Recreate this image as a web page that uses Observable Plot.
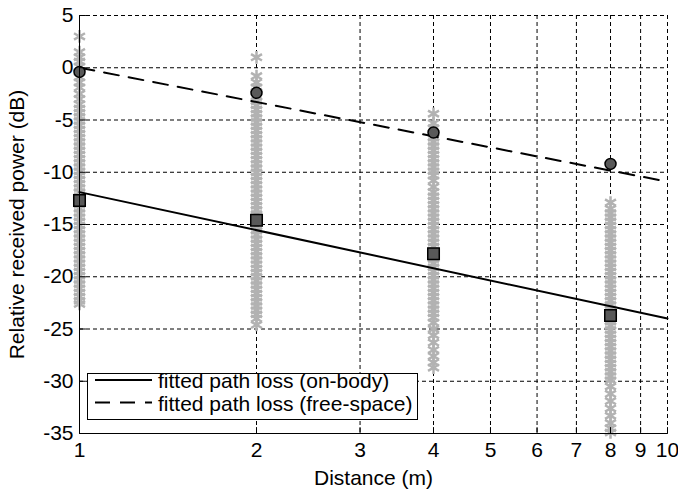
<!DOCTYPE html>
<html><head><meta charset="utf-8">
<script src="https://cdn.jsdelivr.net/npm/d3@7"></script>
<script src="https://cdn.jsdelivr.net/npm/@observablehq/plot@0.6"></script>
<style>
body{margin:0;background:#fff;}
#wrap{position:relative;width:678px;height:492px;font-family:"Liberation Sans",Arial,sans-serif;}
#legend{position:absolute;left:0;top:0;pointer-events:none;}
</style></head><body><div id="wrap"></div>
<script>
// Measured received power samples (dB) at each distance
const distances = [1, 2, 4, 8];
const samples1m = [3.0, 1.5, 1.0, 0.6, 0.1, -0.4, -0.9, -1.4, -1.9, -2.5, -3.0, -3.5, -3.9, -4.3, -4.7, -5.1, -5.5, -5.9, -6.3, -6.7, -7.1, -7.5, -7.9, -8.3, -8.7, -9.1, -9.5, -9.9, -10.3, -10.7, -11.1, -11.5, -11.9, -12.3, -12.7, -13.1, -13.5, -13.9, -14.3, -14.7, -15.1, -15.5, -15.9, -16.3, -16.7, -17.1, -17.5, -17.9, -18.3, -18.7, -19.1, -19.5, -19.9, -20.3, -20.7, -21.1, -21.5, -21.9, -22.3, -22.6];
const samples2m = [1.0, -0.8, -1.4, -1.9, -2.3, -2.8, -3.2, -3.6, -4.0, -4.4, -4.8, -5.2, -5.6, -6.0, -6.4, -6.8, -7.2, -7.6, -8.0, -8.4, -8.8, -9.2, -9.6, -10.0, -10.4, -10.8, -11.2, -11.6, -12.0, -12.4, -12.8, -13.2, -13.6, -14.0, -14.4, -14.8, -15.2, -15.6, -16.0, -16.4, -16.8, -17.2, -17.6, -18.0, -18.4, -18.8, -19.2, -19.6, -20.0, -20.4, -20.8, -21.2, -21.6, -22.0, -22.4, -22.8, -23.2, -23.6, -24.0, -24.6];
const samples4m = [-4.4, -5.3, -5.8, -6.3, -6.7, -7.1, -7.5, -7.9, -8.3, -8.7, -9.1, -9.5, -9.9, -10.3, -10.8, -11.4, -11.9, -12.3, -12.7, -13.1, -13.5, -13.9, -14.3, -14.7, -15.1, -15.5, -15.9, -16.3, -16.7, -17.1, -17.5, -17.9, -18.3, -18.7, -19.1, -19.5, -19.9, -20.3, -20.7, -21.1, -21.5, -21.9, -22.3, -22.7, -23.1, -23.5, -23.9, -24.4, -25.0, -25.6, -26.3, -27.0, -27.6, -28.2, -28.7];
const samples8m = [-12.9, -13.5, -13.9, -14.3, -14.7, -15.1, -15.5, -15.9, -16.3, -16.7, -17.1, -17.5, -17.9, -18.3, -18.7, -19.1, -19.5, -19.9, -20.3, -20.7, -21.1, -21.5, -21.9, -22.3, -22.7, -23.1, -23.5, -23.9, -24.3, -24.7, -25.1, -25.5, -25.9, -26.3, -26.7, -27.1, -27.5, -27.9, -28.3, -28.7, -29.1, -29.5, -29.9, -30.5, -31.2, -31.9, -32.6, -33.3, -34.0, -34.5, -34.9];
// Mean values
const meanFreeSpace = [-0.4, -2.4, -6.2, -9.2];
const meanOnBody = [-12.7, -14.6, -17.8, -23.7];
// Fitted path loss lines
const fitDistances = [1, 10];
const fitOnBody = [-11.9, -24.0];
const fitFreeSpace = [0.0, -10.9];
// Ticks and labels
const xTicks = [1, 2, 3, 4, 5, 6, 7, 8, 9, 10];
const yTicks = [-35, -30, -25, -20, -15, -10, -5, 0, 5];
const xLabel = "Distance (m)";
const yLabel = "Relative received power (dB)";
const legendLabels = ["fitted path loss (on-body)", "fitted path loss (free-space)"];

const sampleSets = [samples1m, samples2m, samples4m, samples8m];
const samples = distances.flatMap((d, i) => sampleSets[i].map(p => ({distance: d, power: p})));
const means = distances.map((d, i) => ({distance: d, freeSpace: meanFreeSpace[i], onBody: meanOnBody[i]}));
const fits = fitDistances.map((d, i) => ({distance: d, onBody: fitOnBody[i], freeSpace: fitFreeSpace[i]}));

const tickShape = {draw(ctx, l) { ctx.moveTo(0, 0); ctx.lineTo(0, -l); }};
const grid = {stroke: "#000", strokeOpacity: 1, strokeWidth: 1, strokeDasharray: "4,3"};

const chart = Plot.plot({
  width: 678, height: 492,
  marginLeft: 79, marginRight: 11, marginTop: 15, marginBottom: 59,
  style: {fontFamily: "'Liberation Sans', Arial, sans-serif", fontSize: "21px", color: "#000", background: "#fff", overflow: "visible"},
  x: {type: "log", domain: [1, 10], axis: null},
  y: {domain: [-35, 5]},
  marks: [
    Plot.gridX(xTicks, grid),
    Plot.gridY(yTicks, grid),
    Plot.dot(samples, {x: "distance", y: "power", symbol: "asterisk", r: 6, stroke: "#b2b2b2", strokeWidth: 2.5}),
    Plot.line(fits, {x: "distance", y: "onBody", stroke: "#000", strokeWidth: 2}),
    Plot.line(fits, {x: "distance", y: "freeSpace", stroke: "#000", strokeWidth: 2, strokeDasharray: "15,10"}),
    Plot.dot(means, {x: "distance", y: "freeSpace", symbol: "circle", r: 5.5, fill: "#595959", stroke: "#000", strokeWidth: 1.5}),
    Plot.dot(means, {x: "distance", y: "onBody", symbol: "square", r: 6.5, fill: "#595959", stroke: "#000", strokeWidth: 1.5}),
    Plot.ruleX([1], {stroke: "#000", strokeWidth: 1}),
    Plot.ruleY([-35], {stroke: "#000", strokeWidth: 1}),
    Plot.vector(xTicks, {x: d => d, frameAnchor: "bottom", length: 6, rotate: 0, anchor: "start", shape: tickShape, stroke: "#000", strokeWidth: 1}),
    Plot.vector(yTicks, {y: d => d, frameAnchor: "left", length: 6, rotate: 90, anchor: "start", shape: tickShape, stroke: "#000", strokeWidth: 1}),
    Plot.text(xTicks, {x: d => d, frameAnchor: "bottom", lineAnchor: "top", dy: 9, text: d => String(d), fill: "#000"}),
    Plot.text([xLabel], {frameAnchor: "bottom", lineAnchor: "middle", dy: 45, text: d => d, fill: "#000"}),
    Plot.axisY(yTicks, {tickSize: 0, tickPadding: 6, tickFormat: d => String(d), label: yLabel, labelAnchor: "center", labelOffset: 70, labelArrow: "none"})
  ]
});
const wrap = document.getElementById("wrap");
wrap.appendChild(chart);

// Legend overlay
const ns = "http://www.w3.org/2000/svg";
const lg = document.createElementNS(ns, "svg");
lg.setAttribute("id", "legend");
lg.setAttribute("width", 678); lg.setAttribute("height", 492);
const box = {x: 87.5, y: 373.5, w: 330, h: 46};
const rect = document.createElementNS(ns, "rect");
rect.setAttribute("x", box.x); rect.setAttribute("y", box.y);
rect.setAttribute("width", box.w); rect.setAttribute("height", box.h);
rect.setAttribute("fill", "#fff"); rect.setAttribute("stroke", "#000");
lg.appendChild(rect);
const dashes = [null, "15,10"];
legendLabels.forEach((label, i) => {
  const cy = 380 + i * 22.5;
  const ln = document.createElementNS(ns, "line");
  ln.setAttribute("x1", 95); ln.setAttribute("x2", 152);
  ln.setAttribute("y1", cy); ln.setAttribute("y2", cy);
  ln.setAttribute("stroke", "#000"); ln.setAttribute("stroke-width", 2);
  if (dashes[i]) ln.setAttribute("stroke-dasharray", dashes[i]);
  lg.appendChild(ln);
  const t = document.createElementNS(ns, "text");
  t.setAttribute("x", 158); t.setAttribute("y", cy + 8);
  t.setAttribute("font-family", "'Liberation Sans', Arial, sans-serif");
  t.setAttribute("font-size", 21); t.setAttribute("fill", "#000");
  t.textContent = label;
  lg.appendChild(t);
});
wrap.appendChild(lg);
</script>
</body></html>
